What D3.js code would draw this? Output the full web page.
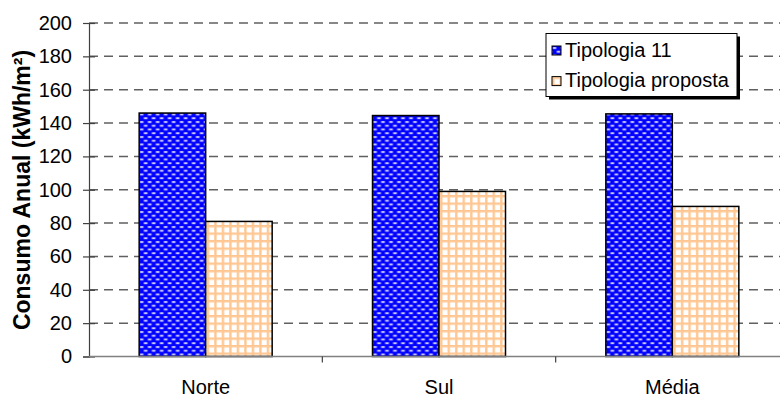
<!DOCTYPE html>
<html>
<head>
<meta charset="utf-8">
<script src="https://cdn.jsdelivr.net/npm/d3@7"></script>
<style>
  html, body { margin: 0; padding: 0; background: #fff; }
  svg { display: block; font-family: Arial, "Liberation Sans", sans-serif; }
</style>
</head>
<body>
<div id="chart"></div>
<script>
// dados
const categorias = ["Norte", "Sul", "Média"];
const series = ["Tipologia 11", "Tipologia proposta"];
const tipologia11 = [146, 144.5, 145.5];
const tipologiaProposta = [81, 99, 90];
const yTicks = [0, 20, 40, 60, 80, 100, 120, 140, 160, 180, 200];

const W = 780, H = 396;
const plot = { left: 89, right: 789, top: 23, bottom: 356.5 };

const svg = d3.select("#chart").append("svg")
  .attr("width", W).attr("height", H);

// patterns
const defs = svg.append("defs");
const pBlue = defs.append("pattern")
  .attr("id", "pBlue").attr("patternUnits", "userSpaceOnUse")
  .attr("width", 8).attr("height", 7.5);
pBlue.append("rect").attr("width", 8).attr("height", 7.5).attr("fill", "#0000ff");
[[0.5, 1], [4.5, 4.75], [-3.5, 4.75]].forEach(([px, py]) => {
  pBlue.append("rect").attr("x", px).attr("y", py).attr("width", 4).attr("height", 2).attr("fill", "#9999ff");
  pBlue.append("rect").attr("x", px + 1).attr("y", py + 0.5).attr("width", 2).attr("height", 1).attr("fill", "#ffffff");
});

const pOrange = defs.append("pattern")
  .attr("id", "pOrange").attr("patternUnits", "userSpaceOnUse")
  .attr("width", 7.5).attr("height", 7.5);
pOrange.append("rect").attr("width", 7.5).attr("height", 7.5).attr("fill", "#ffffff");
pOrange.append("rect").attr("x", 0).attr("y", 0).attr("width", 7.5).attr("height", 2.5).attr("fill", "#ffd2a6");
pOrange.append("rect").attr("x", 0).attr("y", 0).attr("width", 2.5).attr("height", 7.5).attr("fill", "#ffd2a6");
pOrange.append("rect").attr("x", 0.5).attr("y", 0).attr("width", 7).attr("height", 1.5).attr("fill", "#ffc590");
pOrange.append("rect").attr("x", 0.5).attr("y", 0).attr("width", 1.5).attr("height", 7.5).attr("fill", "#ffc590");

const fills = { "Tipologia 11": "url(#pBlue)", "Tipologia proposta": "url(#pOrange)" };

// scales
const x0 = d3.scaleBand().domain(categorias).range([plot.left, plot.right])
  .paddingInner(0.43).paddingOuter(0.215);
const x1 = d3.scaleBand().domain(series).range([0, x0.bandwidth()]);
const y = d3.scaleLinear().domain([0, 200]).range([plot.bottom, plot.top]);

// gridlines
svg.append("g").selectAll("line")
  .data(yTicks.filter(d => d > 0))
  .enter().append("line")
  .attr("x1", plot.left).attr("x2", W)
  .attr("y1", d => y(d)).attr("y2", d => y(d))
  .attr("stroke", "#606060").attr("stroke-width", 1.5)
  .attr("stroke-dasharray", "9,6");

// barras
const data = categorias.map((c, i) => ({
  cat: c,
  vals: [
    { s: series[0], v: tipologia11[i] },
    { s: series[1], v: tipologiaProposta[i] }
  ]
}));

const groups = svg.append("g").selectAll("g")
  .data(data).enter().append("g")
  .attr("transform", d => `translate(${x0(d.cat)},0)`);

groups.selectAll("rect")
  .data(d => d.vals).enter().append("rect")
  .attr("x", d => x1(d.s))
  .attr("y", d => y(d.v))
  .attr("width", x1.bandwidth())
  .attr("height", d => y(0) - y(d.v))
  .attr("fill", d => fills[d.s])
  .attr("stroke", "#000").attr("stroke-width", 1.5);

// eixo y
const yAxis = svg.append("g")
  .attr("transform", `translate(${plot.left},0)`)
  .call(d3.axisLeft(y).tickValues(yTicks).tickSize(6).tickPadding(11));
yAxis.select(".domain").attr("stroke", "#404040").attr("stroke-width", 1.2);
yAxis.selectAll(".tick line").attr("x1", 6).attr("stroke", "#404040").attr("stroke-width", 1.2);
yAxis.selectAll("text").style("font-size", "20px").attr("fill", "#000");

// eixo x
const xAxis = svg.append("g")
  .attr("transform", `translate(0,${plot.bottom})`);
xAxis.append("line")
  .attr("x1", plot.left).attr("x2", W)
  .attr("stroke", "#808080").attr("stroke-width", 1.5);
xAxis.selectAll(".sep")
  .data(categorias.slice(1)).enter().append("line")
  .attr("x1", d => x0(d) - x0.step() * x0.paddingInner() / 2)
  .attr("x2", d => x0(d) - x0.step() * x0.paddingInner() / 2)
  .attr("y1", 0).attr("y2", 6)
  .attr("stroke", "#404040").attr("stroke-width", 1.2);
xAxis.selectAll("text")
  .data(categorias).enter().append("text")
  .attr("x", d => x0(d) + x0.bandwidth() / 2)
  .attr("y", 37)
  .attr("text-anchor", "middle")
  .style("font-size", "20px")
  .text(d => d);

// titulo eixo y
svg.append("text")
  .attr("transform", "translate(30,190) rotate(-90)")
  .attr("text-anchor", "middle")
  .style("font-size", "23px").style("font-weight", "700")
  .text("Consumo Anual (kWh/m²)");

// legenda
const legend = svg.append("g").attr("transform", "translate(546,33.5)");
legend.append("rect").attr("x", 3).attr("y", 3).attr("width", 191).attr("height", 63).attr("fill", "#000");
legend.append("rect").attr("width", 191).attr("height", 63)
  .attr("fill", "#fff").attr("stroke", "#000").attr("stroke-width", 1);
series.forEach((s, i) => {
  const gl = legend.append("g").attr("transform", `translate(6,${12.5 + i * 30.6})`);
  gl.append("rect").attr("width", 9).attr("height", 9)
    .attr("fill", fills[s]).attr("stroke", "#000").attr("stroke-width", 1);
  gl.append("text").attr("x", 13).attr("y", 10.7)
    .style("font-size", "20px").text(s);
});
</script>
</body>
</html>
